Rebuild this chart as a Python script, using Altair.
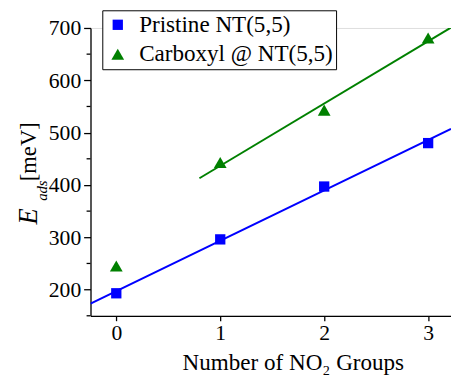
import altair as alt
import pandas as pd

groups = [0, 1, 2, 3]
pristine = [193, 296, 397, 480]
carboxyl = [245, 443, 543, 681]
series_names = ["Pristine NT(5,5)", "Carboxyl @ NT(5,5)"]
colors = ["#0000FF", "#008000"]
shapes = ["square", "triangle-up"]
x_ticks = [0, 1, 2, 3]
y_major = [200, 300, 400, 500, 600, 700]
y_minor = [150, 250, 350, 450, 550, 650]
x_title = "Number of NO\u2082 Groups"
y_title_parts = ["E", "ads", "[meV]"]

FONT = "Liberation Serif"

df = pd.DataFrame({
    "n": groups * 2,
    "E": pristine + carboxyl,
    "series": [series_names[0]] * len(groups) + [series_names[1]] * len(groups),
})

x_dom = [-0.248, 3.22]
xs = alt.Scale(domain=x_dom, nice=False, zero=False)
ys = alt.Scale(domain=[150, 700], nice=False, zero=False)

x_axis = alt.Axis(
    values=x_ticks, format="d", title=x_title, grid=False,
    tickSize=5, tickColor="black", tickWidth=1.3,
    domainColor="black", domainWidth=1.3,
    labelFont=FONT, labelFontSize=22, labelColor="black", labelPadding=2,
    titleFont=FONT, titleFontSize=23.5, titleFontWeight="normal", titleColor="black",
    titleX=206, titleY=55, titleAlign="center", titleBaseline="alphabetic",
)
y_axis = alt.Axis(
    values=y_major, title=None, grid=False,
    tickSize=7, tickColor="black", tickWidth=1.3,
    domainColor="black", domainWidth=1.3,
    labelFont=FONT, labelFontSize=22, labelColor="black", labelPadding=3,
)

base = alt.Chart(df)

line_p = base.transform_filter(
    alt.datum.series == series_names[0]
).transform_regression("n", "E", extent=x_dom).mark_line(
    color=colors[0], strokeWidth=2, clip=True
).encode(x=alt.X("n:Q", scale=xs, axis=x_axis), y=alt.Y("E:Q", scale=ys, axis=y_axis))

line_c = base.transform_filter(
    (alt.datum.series == series_names[1]) & (alt.datum.n >= 1)
).transform_regression("n", "E", extent=[0.8, 3.22]).mark_line(
    color=colors[1], strokeWidth=2, clip=True
).encode(x=alt.X("n:Q", scale=xs), y=alt.Y("E:Q", scale=ys))

minor = alt.Chart(pd.DataFrame({"v": y_minor})).mark_rule(
    color="black", strokeWidth=1.3
).encode(y=alt.Y("v:Q", scale=ys), x=alt.value(-4), x2=alt.value(0))

legend = alt.Legend(
    orient="none", legendX=12, legendY=-18, title=None,
    strokeColor="black", fillColor="white", padding=3,
    labelFont=FONT, labelFontSize=23.5, labelColor="black", labelLimit=400,
    labelExpr="datum.label + '\u2002'",
    symbolSize=45, symbolOffset=1, labelOffset=10, rowPadding=5,
    symbolStrokeWidth=0,
)

points = base.mark_point(filled=True, opacity=1).encode(
    x=alt.X("n:Q", scale=xs),
    y=alt.Y("E:Q", scale=ys),
    color=alt.Color("series:N", scale=alt.Scale(domain=series_names, range=colors), legend=legend),
    shape=alt.Shape("series:N", scale=alt.Scale(domain=series_names, range=shapes), legend=legend),
    size=alt.Size("series:N", scale=alt.Scale(domain=series_names, range=[110, 169]), legend=None),
)

def ytext(txt, x, y, size, italic):
    return alt.Chart(pd.DataFrame({"t": [txt]})).mark_text(
        angle=270, align="left", baseline="alphabetic", font=FONT,
        fontSize=size, fontStyle="italic" if italic else "normal", color="black",
    ).encode(text="t:N", x=alt.value(x), y=alt.value(y))

t_e = ytext(y_title_parts[0], -54, 200, 27, True)
t_ads = ytext(y_title_parts[1], -44, 176, 15, True)
t_mev = ytext(y_title_parts[2], -55, 156, 23, False)

chart = alt.layer(line_p, line_c, minor, points, t_e, t_ads, t_mev).properties(
    width=367, height=293,
    autosize=alt.AutoSizeParams(type="none"),
    padding={"left": 84, "top": 17, "right": 0, "bottom": 60},
).configure_view(stroke=None).configure(background="white")

chart.save("out.html", embed_options={"renderer": "svg", "actions": False})
